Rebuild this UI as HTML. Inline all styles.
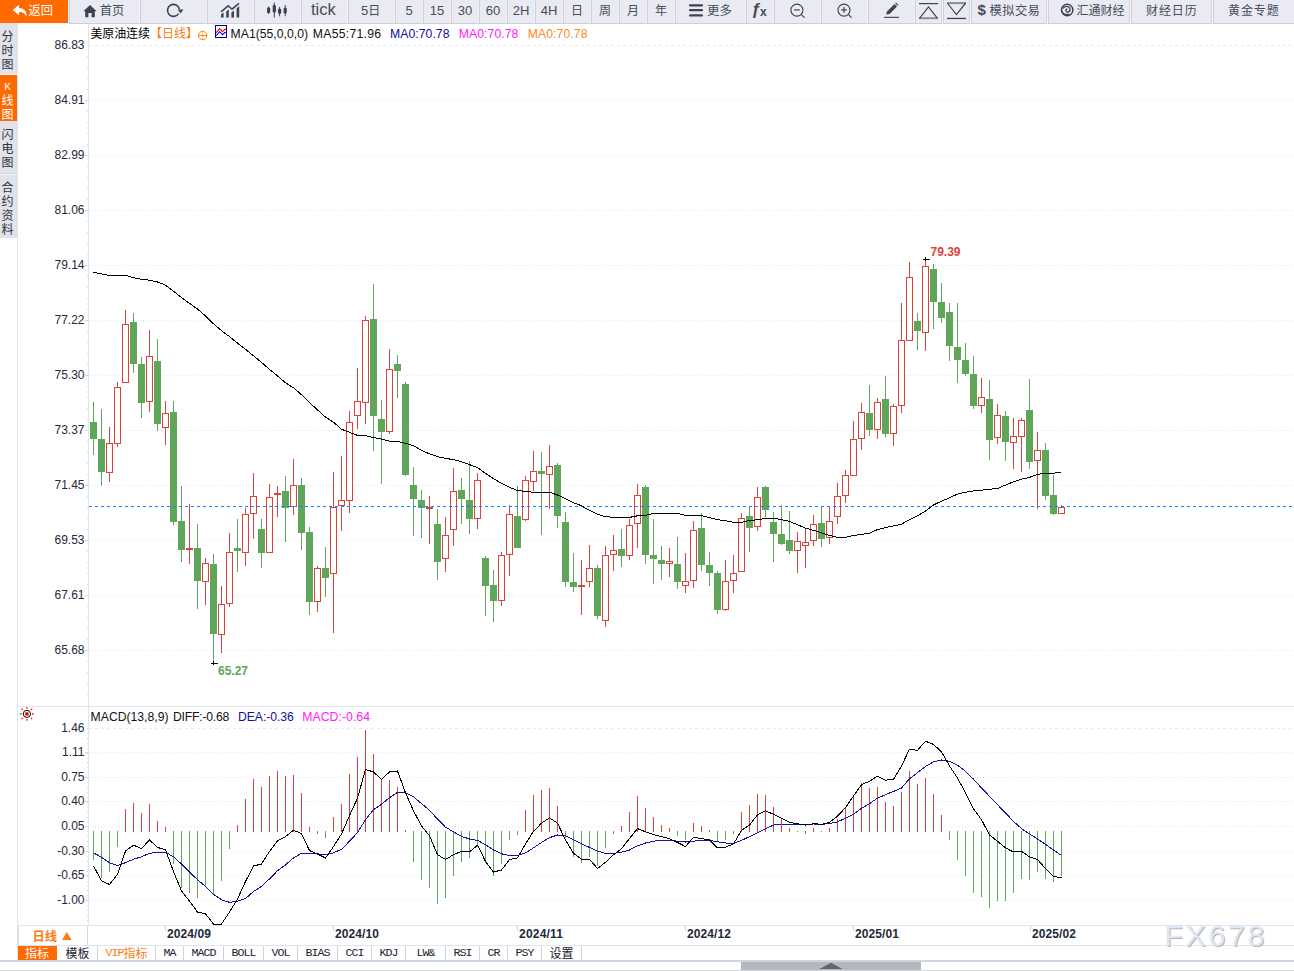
<!DOCTYPE html>
<html lang="zh-CN"><head><meta charset="utf-8"><title>美原油连续 日线</title>
<style>
html,body{margin:0;padding:0;background:#fff;}
body{width:1294px;height:971px;position:relative;overflow:hidden;font-family:"Liberation Sans","Noto Sans CJK SC",sans-serif;font-size:12px;color:#222;}
#tb{position:absolute;left:0;top:0;width:1294px;height:24px;background:#f3f4f9;}
.b{position:absolute;top:0;height:24px;box-sizing:border-box;background:#e9eaf2;border-left:1px solid #cfd0da;border-right:1px solid #f1f2f7;border-bottom:1px solid #cdd0d9;}
.b.d{border-right:1px solid #d3d4de;}
.b svg{position:absolute;}
.b.o{background:#ff6a00;border-left:1px solid #ff6a00;border-bottom:none;height:23px;}
.num{font-size:14px;}
#side{position:absolute;left:0;top:23px;width:18px;height:215px;background:#e1e2ea;}
.sv{position:absolute;left:-1.5px;width:18px;text-align:center;font-size:12px;line-height:14px;color:#2d3644;font-family:"Liberation Sans","Noto Sans CJK SC",sans-serif;}
.sv.o{background:#ff6a00;color:#fff;left:0;width:17px;padding-right:2px;box-sizing:border-box;}
svg text{font-family:"Liberation Sans","Noto Sans CJK SC",sans-serif;}
#chart{position:absolute;left:0;top:0;}
.t{position:absolute;white-space:nowrap;}
.tab{position:absolute;top:946px;height:14px;box-sizing:border-box;border-right:1px solid #ccd3dd;text-align:center;color:#1c2230;white-space:nowrap;background:#fff;overflow:visible;}
.ti{position:absolute;left:0;right:0;top:-0.5px;font-size:12px;line-height:16px;text-align:center;}
.mo{font-family:"Liberation Mono",monospace;font-size:11.6px;letter-spacing:-0.96px;position:relative;top:-1.3px;}
</style></head><body>
<svg id="chart" width="1294" height="971" viewBox="0 0 1294 971" shape-rendering="crispEdges">
<g stroke="#dfe5ec" stroke-width="1" fill="none">
<line x1="17.5" y1="238" x2="17.5" y2="962"/>
<line x1="88.5" y1="24" x2="88.5" y2="925"/>
<line x1="18" y1="706.5" x2="1294" y2="706.5"/>
<line x1="18" y1="925.5" x2="1294" y2="925.5"/>
<line x1="18" y1="945.5" x2="1294" y2="945.5"/>
</g>
<line x1="89" y1="45.5" x2="1294" y2="45.5" stroke="#e2ebf1" stroke-width="1" stroke-dasharray="3 3"/>
<line x1="89" y1="728.5" x2="1294" y2="728.5" stroke="#e2ebf1" stroke-width="1" stroke-dasharray="3 3"/>
<g stroke="#e5e8ed" stroke-width="1" stroke-dasharray="1 2" fill="none">
<line x1="89" y1="100.5" x2="1294" y2="100.5"/>
<line x1="89" y1="155.5" x2="1294" y2="155.5"/>
<line x1="89" y1="210.5" x2="1294" y2="210.5"/>
<line x1="89" y1="265.5" x2="1294" y2="265.5"/>
<line x1="89" y1="320.5" x2="1294" y2="320.5"/>
<line x1="89" y1="375.5" x2="1294" y2="375.5"/>
<line x1="89" y1="430.5" x2="1294" y2="430.5"/>
<line x1="89" y1="485.5" x2="1294" y2="485.5"/>
<line x1="89" y1="540.5" x2="1294" y2="540.5"/>
<line x1="89" y1="595.5" x2="1294" y2="595.5"/>
<line x1="89" y1="650.5" x2="1294" y2="650.5"/>
<line x1="89" y1="752.5" x2="1294" y2="752.5"/>
<line x1="89" y1="777.5" x2="1294" y2="777.5"/>
<line x1="89" y1="801.5" x2="1294" y2="801.5"/>
<line x1="89" y1="826.5" x2="1294" y2="826.5"/>
<line x1="89" y1="851.5" x2="1294" y2="851.5"/>
<line x1="89" y1="875.5" x2="1294" y2="875.5"/>
<line x1="89" y1="900.5" x2="1294" y2="900.5"/>
</g>
<g stroke="#cfd8e3" stroke-width="1" fill="none">
<line x1="87" y1="56.5" x2="88" y2="56.5"/>
<line x1="87" y1="67.5" x2="88" y2="67.5"/>
<line x1="87" y1="78.5" x2="88" y2="78.5"/>
<line x1="87" y1="89.5" x2="88" y2="89.5"/>
<line x1="85" y1="100.5" x2="88" y2="100.5"/>
<line x1="87" y1="111.5" x2="88" y2="111.5"/>
<line x1="87" y1="122.5" x2="88" y2="122.5"/>
<line x1="87" y1="133.5" x2="88" y2="133.5"/>
<line x1="87" y1="144.5" x2="88" y2="144.5"/>
<line x1="85" y1="155.5" x2="88" y2="155.5"/>
<line x1="87" y1="166.5" x2="88" y2="166.5"/>
<line x1="87" y1="177.5" x2="88" y2="177.5"/>
<line x1="87" y1="188.5" x2="88" y2="188.5"/>
<line x1="87" y1="199.5" x2="88" y2="199.5"/>
<line x1="85" y1="210.5" x2="88" y2="210.5"/>
<line x1="87" y1="221.5" x2="88" y2="221.5"/>
<line x1="87" y1="232.5" x2="88" y2="232.5"/>
<line x1="87" y1="243.5" x2="88" y2="243.5"/>
<line x1="87" y1="254.5" x2="88" y2="254.5"/>
<line x1="85" y1="265.5" x2="88" y2="265.5"/>
<line x1="87" y1="276.5" x2="88" y2="276.5"/>
<line x1="87" y1="287.5" x2="88" y2="287.5"/>
<line x1="87" y1="298.5" x2="88" y2="298.5"/>
<line x1="87" y1="309.5" x2="88" y2="309.5"/>
<line x1="85" y1="320.5" x2="88" y2="320.5"/>
<line x1="87" y1="331.5" x2="88" y2="331.5"/>
<line x1="87" y1="342.5" x2="88" y2="342.5"/>
<line x1="87" y1="353.5" x2="88" y2="353.5"/>
<line x1="87" y1="364.5" x2="88" y2="364.5"/>
<line x1="85" y1="375.5" x2="88" y2="375.5"/>
<line x1="87" y1="386.5" x2="88" y2="386.5"/>
<line x1="87" y1="397.5" x2="88" y2="397.5"/>
<line x1="87" y1="408.5" x2="88" y2="408.5"/>
<line x1="87" y1="419.5" x2="88" y2="419.5"/>
<line x1="85" y1="430.5" x2="88" y2="430.5"/>
<line x1="87" y1="441.5" x2="88" y2="441.5"/>
<line x1="87" y1="452.5" x2="88" y2="452.5"/>
<line x1="87" y1="463.5" x2="88" y2="463.5"/>
<line x1="87" y1="474.5" x2="88" y2="474.5"/>
<line x1="85" y1="485.5" x2="88" y2="485.5"/>
<line x1="87" y1="496.5" x2="88" y2="496.5"/>
<line x1="87" y1="507.5" x2="88" y2="507.5"/>
<line x1="87" y1="518.5" x2="88" y2="518.5"/>
<line x1="87" y1="529.5" x2="88" y2="529.5"/>
<line x1="85" y1="540.5" x2="88" y2="540.5"/>
<line x1="87" y1="551.5" x2="88" y2="551.5"/>
<line x1="87" y1="562.5" x2="88" y2="562.5"/>
<line x1="87" y1="573.5" x2="88" y2="573.5"/>
<line x1="87" y1="584.5" x2="88" y2="584.5"/>
<line x1="85" y1="595.5" x2="88" y2="595.5"/>
<line x1="87" y1="606.5" x2="88" y2="606.5"/>
<line x1="87" y1="617.5" x2="88" y2="617.5"/>
<line x1="87" y1="628.5" x2="88" y2="628.5"/>
<line x1="87" y1="639.5" x2="88" y2="639.5"/>
<line x1="85" y1="650.5" x2="88" y2="650.5"/>
<line x1="87" y1="661.5" x2="88" y2="661.5"/>
<line x1="87" y1="672.5" x2="88" y2="672.5"/>
<line x1="87" y1="683.5" x2="88" y2="683.5"/>
<line x1="87" y1="694.5" x2="88" y2="694.5"/>
<line x1="85" y1="752.5" x2="88" y2="752.5"/>
<line x1="85" y1="777.5" x2="88" y2="777.5"/>
<line x1="85" y1="801.5" x2="88" y2="801.5"/>
<line x1="85" y1="826.5" x2="88" y2="826.5"/>
<line x1="85" y1="851.5" x2="88" y2="851.5"/>
<line x1="85" y1="875.5" x2="88" y2="875.5"/>
<line x1="85" y1="900.5" x2="88" y2="900.5"/>
<line x1="87" y1="728.5" x2="88" y2="728.5"/>
<line x1="87" y1="733.5" x2="88" y2="733.5"/>
<line x1="87" y1="738.5" x2="88" y2="738.5"/>
<line x1="87" y1="743.5" x2="88" y2="743.5"/>
<line x1="87" y1="748.5" x2="88" y2="748.5"/>
<line x1="87" y1="753.5" x2="88" y2="753.5"/>
<line x1="87" y1="758.5" x2="88" y2="758.5"/>
<line x1="87" y1="762.5" x2="88" y2="762.5"/>
<line x1="87" y1="767.5" x2="88" y2="767.5"/>
<line x1="87" y1="772.5" x2="88" y2="772.5"/>
<line x1="87" y1="777.5" x2="88" y2="777.5"/>
<line x1="87" y1="782.5" x2="88" y2="782.5"/>
<line x1="87" y1="787.5" x2="88" y2="787.5"/>
<line x1="87" y1="792.5" x2="88" y2="792.5"/>
<line x1="87" y1="797.5" x2="88" y2="797.5"/>
<line x1="87" y1="802.5" x2="88" y2="802.5"/>
<line x1="87" y1="807.5" x2="88" y2="807.5"/>
<line x1="87" y1="812.5" x2="88" y2="812.5"/>
<line x1="87" y1="817.5" x2="88" y2="817.5"/>
<line x1="87" y1="821.5" x2="88" y2="821.5"/>
<line x1="87" y1="826.5" x2="88" y2="826.5"/>
<line x1="87" y1="831.5" x2="88" y2="831.5"/>
<line x1="87" y1="836.5" x2="88" y2="836.5"/>
<line x1="87" y1="841.5" x2="88" y2="841.5"/>
<line x1="87" y1="846.5" x2="88" y2="846.5"/>
<line x1="87" y1="851.5" x2="88" y2="851.5"/>
<line x1="87" y1="856.5" x2="88" y2="856.5"/>
<line x1="87" y1="861.5" x2="88" y2="861.5"/>
<line x1="87" y1="866.5" x2="88" y2="866.5"/>
<line x1="87" y1="871.5" x2="88" y2="871.5"/>
<line x1="87" y1="876.5" x2="88" y2="876.5"/>
<line x1="87" y1="881.5" x2="88" y2="881.5"/>
<line x1="87" y1="885.5" x2="88" y2="885.5"/>
<line x1="87" y1="890.5" x2="88" y2="890.5"/>
<line x1="87" y1="895.5" x2="88" y2="895.5"/>
<line x1="87" y1="900.5" x2="88" y2="900.5"/>
<line x1="87" y1="905.5" x2="88" y2="905.5"/>
<line x1="87" y1="910.5" x2="88" y2="910.5"/>
<line x1="87" y1="915.5" x2="88" y2="915.5"/>
<line x1="87" y1="920.5" x2="88" y2="920.5"/>
</g>
<g>
<rect x="93" y="402" width="1" height="53" fill="#5fa55a"/>
<rect x="90" y="422" width="7" height="17" fill="#5fa55a"/>
<rect x="101" y="409" width="1" height="77" fill="#5fa55a"/>
<rect x="98" y="439" width="7" height="33" fill="#5fa55a"/>
<rect x="109" y="427" width="1" height="16" fill="#d8433c"/>
<rect x="109" y="473" width="1" height="9" fill="#d8433c"/>
<rect x="106.5" y="443.5" width="6" height="29" fill="#fff" stroke="#d8433c" stroke-width="1"/>
<rect x="117" y="382" width="1" height="5" fill="#d8433c"/>
<rect x="117" y="444" width="1" height="3" fill="#d8433c"/>
<rect x="114.5" y="387.5" width="6" height="56" fill="#fff" stroke="#d8433c" stroke-width="1"/>
<rect x="125" y="310" width="1" height="14" fill="#d8433c"/>
<rect x="122.5" y="324.5" width="6" height="58" fill="#fff" stroke="#d8433c" stroke-width="1"/>
<rect x="133" y="313" width="1" height="60" fill="#5fa55a"/>
<rect x="130" y="322" width="7" height="42" fill="#5fa55a"/>
<rect x="141" y="357" width="1" height="61" fill="#5fa55a"/>
<rect x="138" y="364" width="7" height="39" fill="#5fa55a"/>
<rect x="149" y="330" width="1" height="26" fill="#d8433c"/>
<rect x="149" y="402" width="1" height="10" fill="#d8433c"/>
<rect x="146.5" y="356.5" width="6" height="45" fill="#fff" stroke="#d8433c" stroke-width="1"/>
<rect x="157" y="339" width="1" height="92" fill="#5fa55a"/>
<rect x="154" y="361" width="7" height="63" fill="#5fa55a"/>
<rect x="165" y="401" width="1" height="12" fill="#d8433c"/>
<rect x="165" y="428" width="1" height="17" fill="#d8433c"/>
<rect x="162.5" y="413.5" width="6" height="14" fill="#fff" stroke="#d8433c" stroke-width="1"/>
<rect x="173" y="401" width="1" height="124" fill="#5fa55a"/>
<rect x="170" y="412" width="7" height="110" fill="#5fa55a"/>
<rect x="181" y="486" width="1" height="76" fill="#5fa55a"/>
<rect x="178" y="521" width="7" height="29" fill="#5fa55a"/>
<rect x="189" y="504" width="1" height="44" fill="#d8433c"/>
<rect x="189" y="550" width="1" height="14" fill="#d8433c"/>
<rect x="186" y="548" width="7" height="2" fill="#d8433c"/>
<rect x="197" y="524" width="1" height="85" fill="#5fa55a"/>
<rect x="194" y="548" width="7" height="33" fill="#5fa55a"/>
<rect x="205" y="558" width="1" height="5" fill="#d8433c"/>
<rect x="205" y="582" width="1" height="23" fill="#d8433c"/>
<rect x="202.5" y="563.5" width="6" height="18" fill="#fff" stroke="#d8433c" stroke-width="1"/>
<rect x="213" y="554" width="1" height="107" fill="#5fa55a"/>
<rect x="210" y="564" width="7" height="70" fill="#5fa55a"/>
<rect x="221" y="586" width="1" height="18" fill="#d8433c"/>
<rect x="221" y="635" width="1" height="18" fill="#d8433c"/>
<rect x="218.5" y="604.5" width="6" height="30" fill="#fff" stroke="#d8433c" stroke-width="1"/>
<rect x="229" y="533" width="1" height="19" fill="#d8433c"/>
<rect x="229" y="604" width="1" height="3" fill="#d8433c"/>
<rect x="226.5" y="552.5" width="6" height="51" fill="#fff" stroke="#d8433c" stroke-width="1"/>
<rect x="237" y="519" width="1" height="53" fill="#5fa55a"/>
<rect x="234" y="548" width="7" height="3" fill="#5fa55a"/>
<rect x="245" y="508" width="1" height="6" fill="#d8433c"/>
<rect x="245" y="553" width="1" height="13" fill="#d8433c"/>
<rect x="242.5" y="514.5" width="6" height="38" fill="#fff" stroke="#d8433c" stroke-width="1"/>
<rect x="253" y="473" width="1" height="23" fill="#d8433c"/>
<rect x="253" y="514" width="1" height="25" fill="#d8433c"/>
<rect x="250.5" y="496.5" width="6" height="17" fill="#fff" stroke="#d8433c" stroke-width="1"/>
<rect x="261" y="519" width="1" height="49" fill="#5fa55a"/>
<rect x="258" y="529" width="7" height="24" fill="#5fa55a"/>
<rect x="269" y="484" width="1" height="13" fill="#d8433c"/>
<rect x="266.5" y="497.5" width="6" height="55" fill="#fff" stroke="#d8433c" stroke-width="1"/>
<rect x="277" y="486" width="1" height="7" fill="#d8433c"/>
<rect x="277" y="495" width="1" height="22" fill="#d8433c"/>
<rect x="274" y="493" width="7" height="2" fill="#d8433c"/>
<rect x="285" y="476" width="1" height="66" fill="#5fa55a"/>
<rect x="282" y="491" width="7" height="17" fill="#5fa55a"/>
<rect x="293" y="459" width="1" height="26" fill="#d8433c"/>
<rect x="293" y="507" width="1" height="8" fill="#d8433c"/>
<rect x="290.5" y="485.5" width="6" height="21" fill="#fff" stroke="#d8433c" stroke-width="1"/>
<rect x="301" y="478" width="1" height="72" fill="#5fa55a"/>
<rect x="298" y="485" width="7" height="48" fill="#5fa55a"/>
<rect x="309" y="527" width="1" height="88" fill="#5fa55a"/>
<rect x="306" y="532" width="7" height="70" fill="#5fa55a"/>
<rect x="317" y="566" width="1" height="2" fill="#d8433c"/>
<rect x="317" y="602" width="1" height="10" fill="#d8433c"/>
<rect x="314.5" y="568.5" width="6" height="33" fill="#fff" stroke="#d8433c" stroke-width="1"/>
<rect x="325" y="547" width="1" height="50" fill="#5fa55a"/>
<rect x="322" y="568" width="7" height="10" fill="#5fa55a"/>
<rect x="333" y="472" width="1" height="35" fill="#d8433c"/>
<rect x="333" y="574" width="1" height="59" fill="#d8433c"/>
<rect x="330.5" y="507.5" width="6" height="66" fill="#fff" stroke="#d8433c" stroke-width="1"/>
<rect x="341" y="456" width="1" height="44" fill="#d8433c"/>
<rect x="341" y="506" width="1" height="25" fill="#d8433c"/>
<rect x="338.5" y="500.5" width="6" height="5" fill="#fff" stroke="#d8433c" stroke-width="1"/>
<rect x="349" y="411" width="1" height="11" fill="#d8433c"/>
<rect x="349" y="501" width="1" height="12" fill="#d8433c"/>
<rect x="346.5" y="422.5" width="6" height="78" fill="#fff" stroke="#d8433c" stroke-width="1"/>
<rect x="357" y="368" width="1" height="33" fill="#d8433c"/>
<rect x="357" y="416" width="1" height="13" fill="#d8433c"/>
<rect x="354.5" y="401.5" width="6" height="14" fill="#fff" stroke="#d8433c" stroke-width="1"/>
<rect x="365" y="316" width="1" height="4" fill="#d8433c"/>
<rect x="365" y="403" width="1" height="21" fill="#d8433c"/>
<rect x="362.5" y="320.5" width="6" height="82" fill="#fff" stroke="#d8433c" stroke-width="1"/>
<rect x="373" y="284" width="1" height="167" fill="#5fa55a"/>
<rect x="370" y="319" width="7" height="97" fill="#5fa55a"/>
<rect x="381" y="400" width="1" height="84" fill="#5fa55a"/>
<rect x="378" y="419" width="7" height="13" fill="#5fa55a"/>
<rect x="389" y="349" width="1" height="20" fill="#d8433c"/>
<rect x="389" y="432" width="1" height="2" fill="#d8433c"/>
<rect x="386.5" y="369.5" width="6" height="62" fill="#fff" stroke="#d8433c" stroke-width="1"/>
<rect x="397" y="355" width="1" height="43" fill="#5fa55a"/>
<rect x="394" y="364" width="7" height="7" fill="#5fa55a"/>
<rect x="405" y="382" width="1" height="94" fill="#5fa55a"/>
<rect x="402" y="384" width="7" height="91" fill="#5fa55a"/>
<rect x="413" y="467" width="1" height="69" fill="#5fa55a"/>
<rect x="410" y="485" width="7" height="14" fill="#5fa55a"/>
<rect x="421" y="490" width="1" height="48" fill="#5fa55a"/>
<rect x="418" y="500" width="7" height="8" fill="#5fa55a"/>
<rect x="429" y="496" width="1" height="11" fill="#d8433c"/>
<rect x="429" y="509" width="1" height="35" fill="#d8433c"/>
<rect x="426" y="507" width="7" height="2" fill="#d8433c"/>
<rect x="437" y="509" width="1" height="71" fill="#5fa55a"/>
<rect x="434" y="524" width="7" height="38" fill="#5fa55a"/>
<rect x="445" y="517" width="1" height="18" fill="#d8433c"/>
<rect x="445" y="559" width="1" height="13" fill="#d8433c"/>
<rect x="442.5" y="535.5" width="6" height="23" fill="#fff" stroke="#d8433c" stroke-width="1"/>
<rect x="453" y="468" width="1" height="23" fill="#d8433c"/>
<rect x="453" y="530" width="1" height="16" fill="#d8433c"/>
<rect x="450.5" y="491.5" width="6" height="38" fill="#fff" stroke="#d8433c" stroke-width="1"/>
<rect x="461" y="478" width="1" height="46" fill="#5fa55a"/>
<rect x="458" y="490" width="7" height="9" fill="#5fa55a"/>
<rect x="469" y="461" width="1" height="73" fill="#5fa55a"/>
<rect x="466" y="500" width="7" height="19" fill="#5fa55a"/>
<rect x="477" y="473" width="1" height="7" fill="#d8433c"/>
<rect x="477" y="519" width="1" height="10" fill="#d8433c"/>
<rect x="474.5" y="480.5" width="6" height="38" fill="#fff" stroke="#d8433c" stroke-width="1"/>
<rect x="485" y="556" width="1" height="60" fill="#5fa55a"/>
<rect x="482" y="558" width="7" height="28" fill="#5fa55a"/>
<rect x="493" y="570" width="1" height="52" fill="#5fa55a"/>
<rect x="490" y="585" width="7" height="16" fill="#5fa55a"/>
<rect x="501" y="552" width="1" height="3" fill="#d8433c"/>
<rect x="501" y="601" width="1" height="5" fill="#d8433c"/>
<rect x="498.5" y="555.5" width="6" height="45" fill="#fff" stroke="#d8433c" stroke-width="1"/>
<rect x="509" y="505" width="1" height="9" fill="#d8433c"/>
<rect x="509" y="555" width="1" height="21" fill="#d8433c"/>
<rect x="506.5" y="514.5" width="6" height="40" fill="#fff" stroke="#d8433c" stroke-width="1"/>
<rect x="517" y="486" width="1" height="62" fill="#5fa55a"/>
<rect x="514" y="516" width="7" height="32" fill="#5fa55a"/>
<rect x="525" y="476" width="1" height="4" fill="#d8433c"/>
<rect x="525" y="520" width="1" height="1" fill="#d8433c"/>
<rect x="522.5" y="480.5" width="6" height="39" fill="#fff" stroke="#d8433c" stroke-width="1"/>
<rect x="533" y="451" width="1" height="20" fill="#d8433c"/>
<rect x="533" y="482" width="1" height="9" fill="#d8433c"/>
<rect x="530.5" y="471.5" width="6" height="10" fill="#fff" stroke="#d8433c" stroke-width="1"/>
<rect x="541" y="452" width="1" height="83" fill="#5fa55a"/>
<rect x="538" y="471" width="7" height="3" fill="#5fa55a"/>
<rect x="549" y="445" width="1" height="21" fill="#d8433c"/>
<rect x="549" y="475" width="1" height="34" fill="#d8433c"/>
<rect x="546.5" y="466.5" width="6" height="8" fill="#fff" stroke="#d8433c" stroke-width="1"/>
<rect x="557" y="463" width="1" height="65" fill="#5fa55a"/>
<rect x="554" y="465" width="7" height="51" fill="#5fa55a"/>
<rect x="565" y="512" width="1" height="75" fill="#5fa55a"/>
<rect x="562" y="522" width="7" height="60" fill="#5fa55a"/>
<rect x="573" y="553" width="1" height="39" fill="#5fa55a"/>
<rect x="570" y="582" width="7" height="5" fill="#5fa55a"/>
<rect x="581" y="560" width="1" height="25" fill="#d8433c"/>
<rect x="581" y="587" width="1" height="28" fill="#d8433c"/>
<rect x="578" y="585" width="7" height="2" fill="#d8433c"/>
<rect x="589" y="545" width="1" height="23" fill="#d8433c"/>
<rect x="589" y="582" width="1" height="5" fill="#d8433c"/>
<rect x="586.5" y="568.5" width="6" height="13" fill="#fff" stroke="#d8433c" stroke-width="1"/>
<rect x="597" y="565" width="1" height="54" fill="#5fa55a"/>
<rect x="594" y="568" width="7" height="48" fill="#5fa55a"/>
<rect x="605" y="546" width="1" height="9" fill="#d8433c"/>
<rect x="605" y="621" width="1" height="6" fill="#d8433c"/>
<rect x="602.5" y="555.5" width="6" height="65" fill="#fff" stroke="#d8433c" stroke-width="1"/>
<rect x="613" y="535" width="1" height="15" fill="#d8433c"/>
<rect x="613" y="555" width="1" height="16" fill="#d8433c"/>
<rect x="610.5" y="550.5" width="6" height="4" fill="#fff" stroke="#d8433c" stroke-width="1"/>
<rect x="621" y="529" width="1" height="38" fill="#5fa55a"/>
<rect x="618" y="549" width="7" height="7" fill="#5fa55a"/>
<rect x="629" y="519" width="1" height="6" fill="#d8433c"/>
<rect x="629" y="556" width="1" height="4" fill="#d8433c"/>
<rect x="626.5" y="525.5" width="6" height="30" fill="#fff" stroke="#d8433c" stroke-width="1"/>
<rect x="637" y="484" width="1" height="11" fill="#d8433c"/>
<rect x="637" y="524" width="1" height="24" fill="#d8433c"/>
<rect x="634.5" y="495.5" width="6" height="28" fill="#fff" stroke="#d8433c" stroke-width="1"/>
<rect x="645" y="485" width="1" height="79" fill="#5fa55a"/>
<rect x="642" y="487" width="7" height="68" fill="#5fa55a"/>
<rect x="653" y="519" width="1" height="65" fill="#5fa55a"/>
<rect x="650" y="555" width="7" height="4" fill="#5fa55a"/>
<rect x="661" y="546" width="1" height="34" fill="#5fa55a"/>
<rect x="658" y="560" width="7" height="4" fill="#5fa55a"/>
<rect x="669" y="548" width="1" height="13" fill="#d8433c"/>
<rect x="669" y="564" width="1" height="13" fill="#d8433c"/>
<rect x="666.5" y="561.5" width="6" height="2" fill="#fff" stroke="#d8433c" stroke-width="1"/>
<rect x="677" y="537" width="1" height="52" fill="#5fa55a"/>
<rect x="674" y="564" width="7" height="18" fill="#5fa55a"/>
<rect x="685" y="553" width="1" height="28" fill="#d8433c"/>
<rect x="685" y="586" width="1" height="7" fill="#d8433c"/>
<rect x="682.5" y="581.5" width="6" height="4" fill="#fff" stroke="#d8433c" stroke-width="1"/>
<rect x="693" y="521" width="1" height="9" fill="#d8433c"/>
<rect x="693" y="581" width="1" height="7" fill="#d8433c"/>
<rect x="690.5" y="530.5" width="6" height="50" fill="#fff" stroke="#d8433c" stroke-width="1"/>
<rect x="701" y="513" width="1" height="58" fill="#5fa55a"/>
<rect x="698" y="528" width="7" height="37" fill="#5fa55a"/>
<rect x="709" y="552" width="1" height="34" fill="#5fa55a"/>
<rect x="706" y="565" width="7" height="8" fill="#5fa55a"/>
<rect x="717" y="571" width="1" height="43" fill="#5fa55a"/>
<rect x="714" y="573" width="7" height="37" fill="#5fa55a"/>
<rect x="725" y="560" width="1" height="21" fill="#d8433c"/>
<rect x="725" y="610" width="1" height="1" fill="#d8433c"/>
<rect x="722.5" y="581.5" width="6" height="28" fill="#fff" stroke="#d8433c" stroke-width="1"/>
<rect x="733" y="555" width="1" height="18" fill="#d8433c"/>
<rect x="733" y="581" width="1" height="12" fill="#d8433c"/>
<rect x="730.5" y="573.5" width="6" height="7" fill="#fff" stroke="#d8433c" stroke-width="1"/>
<rect x="741" y="513" width="1" height="5" fill="#d8433c"/>
<rect x="738.5" y="518.5" width="6" height="53" fill="#fff" stroke="#d8433c" stroke-width="1"/>
<rect x="749" y="506" width="1" height="46" fill="#5fa55a"/>
<rect x="746" y="516" width="7" height="12" fill="#5fa55a"/>
<rect x="757" y="487" width="1" height="10" fill="#d8433c"/>
<rect x="757" y="527" width="1" height="4" fill="#d8433c"/>
<rect x="754.5" y="497.5" width="6" height="29" fill="#fff" stroke="#d8433c" stroke-width="1"/>
<rect x="765" y="486" width="1" height="31" fill="#5fa55a"/>
<rect x="762" y="487" width="7" height="23" fill="#5fa55a"/>
<rect x="773" y="512" width="1" height="50" fill="#5fa55a"/>
<rect x="770" y="522" width="7" height="12" fill="#5fa55a"/>
<rect x="781" y="505" width="1" height="40" fill="#5fa55a"/>
<rect x="778" y="534" width="7" height="10" fill="#5fa55a"/>
<rect x="789" y="511" width="1" height="43" fill="#5fa55a"/>
<rect x="786" y="540" width="7" height="11" fill="#5fa55a"/>
<rect x="797" y="532" width="1" height="9" fill="#d8433c"/>
<rect x="797" y="551" width="1" height="22" fill="#d8433c"/>
<rect x="794.5" y="541.5" width="6" height="9" fill="#fff" stroke="#d8433c" stroke-width="1"/>
<rect x="805" y="529" width="1" height="13" fill="#d8433c"/>
<rect x="805" y="546" width="1" height="22" fill="#d8433c"/>
<rect x="802.5" y="542.5" width="6" height="3" fill="#fff" stroke="#d8433c" stroke-width="1"/>
<rect x="813" y="515" width="1" height="9" fill="#d8433c"/>
<rect x="813" y="541" width="1" height="5" fill="#d8433c"/>
<rect x="810.5" y="524.5" width="6" height="16" fill="#fff" stroke="#d8433c" stroke-width="1"/>
<rect x="821" y="506" width="1" height="41" fill="#5fa55a"/>
<rect x="818" y="523" width="7" height="16" fill="#5fa55a"/>
<rect x="829" y="506" width="1" height="15" fill="#d8433c"/>
<rect x="829" y="538" width="1" height="6" fill="#d8433c"/>
<rect x="826.5" y="521.5" width="6" height="16" fill="#fff" stroke="#d8433c" stroke-width="1"/>
<rect x="837" y="483" width="1" height="13" fill="#d8433c"/>
<rect x="837" y="517" width="1" height="7" fill="#d8433c"/>
<rect x="834.5" y="496.5" width="6" height="20" fill="#fff" stroke="#d8433c" stroke-width="1"/>
<rect x="845" y="470" width="1" height="5" fill="#d8433c"/>
<rect x="845" y="496" width="1" height="7" fill="#d8433c"/>
<rect x="842.5" y="475.5" width="6" height="20" fill="#fff" stroke="#d8433c" stroke-width="1"/>
<rect x="853" y="421" width="1" height="18" fill="#d8433c"/>
<rect x="850.5" y="439.5" width="6" height="36" fill="#fff" stroke="#d8433c" stroke-width="1"/>
<rect x="861" y="403" width="1" height="9" fill="#d8433c"/>
<rect x="861" y="439" width="1" height="11" fill="#d8433c"/>
<rect x="858.5" y="412.5" width="6" height="26" fill="#fff" stroke="#d8433c" stroke-width="1"/>
<rect x="869" y="385" width="1" height="51" fill="#5fa55a"/>
<rect x="866" y="413" width="7" height="17" fill="#5fa55a"/>
<rect x="877" y="398" width="1" height="4" fill="#d8433c"/>
<rect x="877" y="430" width="1" height="9" fill="#d8433c"/>
<rect x="874.5" y="402.5" width="6" height="27" fill="#fff" stroke="#d8433c" stroke-width="1"/>
<rect x="885" y="376" width="1" height="61" fill="#5fa55a"/>
<rect x="882" y="399" width="7" height="35" fill="#5fa55a"/>
<rect x="893" y="404" width="1" height="2" fill="#d8433c"/>
<rect x="893" y="434" width="1" height="12" fill="#d8433c"/>
<rect x="890.5" y="406.5" width="6" height="27" fill="#fff" stroke="#d8433c" stroke-width="1"/>
<rect x="901" y="303" width="1" height="37" fill="#d8433c"/>
<rect x="901" y="406" width="1" height="7" fill="#d8433c"/>
<rect x="898.5" y="340.5" width="6" height="65" fill="#fff" stroke="#d8433c" stroke-width="1"/>
<rect x="909" y="262" width="1" height="15" fill="#d8433c"/>
<rect x="906.5" y="277.5" width="6" height="63" fill="#fff" stroke="#d8433c" stroke-width="1"/>
<rect x="917" y="313" width="1" height="37" fill="#5fa55a"/>
<rect x="914" y="321" width="7" height="10" fill="#5fa55a"/>
<rect x="925" y="261" width="1" height="5" fill="#d8433c"/>
<rect x="925" y="333" width="1" height="18" fill="#d8433c"/>
<rect x="922.5" y="266.5" width="6" height="66" fill="#fff" stroke="#d8433c" stroke-width="1"/>
<rect x="933" y="264" width="1" height="65" fill="#5fa55a"/>
<rect x="930" y="269" width="7" height="33" fill="#5fa55a"/>
<rect x="941" y="283" width="1" height="40" fill="#5fa55a"/>
<rect x="938" y="302" width="7" height="16" fill="#5fa55a"/>
<rect x="949" y="303" width="1" height="58" fill="#5fa55a"/>
<rect x="946" y="312" width="7" height="34" fill="#5fa55a"/>
<rect x="957" y="303" width="1" height="80" fill="#5fa55a"/>
<rect x="954" y="347" width="7" height="13" fill="#5fa55a"/>
<rect x="965" y="343" width="1" height="33" fill="#5fa55a"/>
<rect x="962" y="360" width="7" height="14" fill="#5fa55a"/>
<rect x="973" y="356" width="1" height="53" fill="#5fa55a"/>
<rect x="970" y="374" width="7" height="32" fill="#5fa55a"/>
<rect x="981" y="378" width="1" height="19" fill="#d8433c"/>
<rect x="981" y="406" width="1" height="7" fill="#d8433c"/>
<rect x="978.5" y="397.5" width="6" height="8" fill="#fff" stroke="#d8433c" stroke-width="1"/>
<rect x="989" y="380" width="1" height="80" fill="#5fa55a"/>
<rect x="986" y="399" width="7" height="41" fill="#5fa55a"/>
<rect x="997" y="404" width="1" height="11" fill="#d8433c"/>
<rect x="997" y="438" width="1" height="6" fill="#d8433c"/>
<rect x="994.5" y="415.5" width="6" height="22" fill="#fff" stroke="#d8433c" stroke-width="1"/>
<rect x="1005" y="411" width="1" height="50" fill="#5fa55a"/>
<rect x="1002" y="416" width="7" height="26" fill="#5fa55a"/>
<rect x="1013" y="418" width="1" height="18" fill="#d8433c"/>
<rect x="1013" y="443" width="1" height="26" fill="#d8433c"/>
<rect x="1010.5" y="436.5" width="6" height="6" fill="#fff" stroke="#d8433c" stroke-width="1"/>
<rect x="1021" y="418" width="1" height="2" fill="#d8433c"/>
<rect x="1021" y="437" width="1" height="35" fill="#d8433c"/>
<rect x="1018.5" y="420.5" width="6" height="16" fill="#fff" stroke="#d8433c" stroke-width="1"/>
<rect x="1029" y="379" width="1" height="90" fill="#5fa55a"/>
<rect x="1026" y="410" width="7" height="52" fill="#5fa55a"/>
<rect x="1037" y="432" width="1" height="18" fill="#d8433c"/>
<rect x="1037" y="461" width="1" height="48" fill="#d8433c"/>
<rect x="1034.5" y="450.5" width="6" height="10" fill="#fff" stroke="#d8433c" stroke-width="1"/>
<rect x="1045" y="443" width="1" height="57" fill="#5fa55a"/>
<rect x="1042" y="450" width="7" height="46" fill="#5fa55a"/>
<rect x="1053" y="475" width="1" height="40" fill="#5fa55a"/>
<rect x="1050" y="495" width="7" height="19" fill="#5fa55a"/>
<rect x="1061" y="505" width="1" height="2" fill="#d8433c"/>
<rect x="1058.5" y="507.5" width="6" height="6" fill="#fff" stroke="#d8433c" stroke-width="1"/>
</g>
<line x1="89" y1="506.5" x2="1294" y2="506.5" stroke="#1484fa" stroke-width="1" stroke-dasharray="3 3"/>
<polyline shape-rendering="crispEdges" fill="none" stroke="#000" stroke-width="1" points="93.5,272.3 101.5,273.9 109.5,275.4 117.5,275.4 125.5,275.4 133.5,277.7 141.5,279.3 149.5,280.2 157.5,282 165.5,285.1 173.5,291.3 181.5,297.5 189.5,303.4 197.5,309.1 205.5,316 213.5,323.8 221.5,330.7 229.5,336.6 237.5,343.1 245.5,349.3 253.5,355.8 261.5,362.4 269.5,369.4 277.5,375.9 285.5,382.8 293.5,387.8 301.5,394.7 309.5,402.5 317.5,409.9 325.5,417.1 333.5,422.2 341.5,429.2 349.5,432.3 357.5,435.4 365.5,435.7 373.5,437.5 381.5,439.2 389.5,441.1 397.5,441.4 405.5,443.4 413.5,445.7 421.5,450.4 429.5,453.9 437.5,456.6 445.5,458.4 453.5,459.6 461.5,461.7 469.5,464.6 477.5,467.7 485.5,473.3 493.5,478.7 501.5,483.4 509.5,487.2 517.5,490.6 525.5,491.4 533.5,492.3 541.5,492.3 549.5,492.3 557.5,495 565.5,498.8 573.5,502.7 581.5,505.8 589.5,510.4 597.5,514.3 605.5,516.6 613.5,517.4 621.5,517.4 629.5,517.4 637.5,515.8 645.5,515.4 653.5,513.5 661.5,513.5 669.5,513.4 677.5,513.4 685.5,515.4 693.5,515.7 701.5,515.7 709.5,517.7 717.5,519.6 725.5,520.8 733.5,522.3 741.5,522.3 749.5,520.3 757.5,519.9 765.5,518.3 773.5,518.3 781.5,519.6 789.5,521.4 797.5,524.7 805.5,528.1 813.5,530.4 821.5,532.7 829.5,535.5 837.5,537.3 845.5,537.3 853.5,535.5 861.5,534.3 869.5,533.2 877.5,529.6 885.5,527.6 893.5,525.9 901.5,524.2 909.5,519.6 917.5,515.7 925.5,511.1 933.5,504.9 941.5,501.2 949.5,497.8 957.5,494.1 965.5,492.2 973.5,491 981.5,490.2 989.5,489.3 997.5,488.5 1005.5,485.1 1013.5,481.7 1021.5,479.1 1029.5,477.4 1037.5,474.3 1045.5,473.5 1053.5,473.2 1061.5,472"/>
<g fill="#000"><rect x="923" y="259" width="7" height="1"/><rect x="925" y="257" width="1" height="4"/>
<rect x="211" y="663" width="7" height="1"/><rect x="213" y="661" width="1" height="4"/></g>
<g>
<rect x="93" y="831" width="1" height="29" fill="#5fa55a"/>
<rect x="101" y="831" width="1" height="47" fill="#5fa55a"/>
<rect x="109" y="831" width="1" height="41" fill="#5fa55a"/>
<rect x="117" y="831" width="1" height="16" fill="#5fa55a"/>
<rect x="125" y="809" width="1" height="23" fill="#d8433c"/>
<rect x="133" y="803" width="1" height="29" fill="#d8433c"/>
<rect x="141" y="813" width="1" height="19" fill="#d8433c"/>
<rect x="149" y="804" width="1" height="28" fill="#d8433c"/>
<rect x="157" y="821" width="1" height="11" fill="#d8433c"/>
<rect x="165" y="827" width="1" height="5" fill="#d8433c"/>
<rect x="173" y="831" width="1" height="33" fill="#5fa55a"/>
<rect x="181" y="831" width="1" height="57" fill="#5fa55a"/>
<rect x="189" y="831" width="1" height="62" fill="#5fa55a"/>
<rect x="197" y="831" width="1" height="67" fill="#5fa55a"/>
<rect x="205" y="831" width="1" height="55" fill="#5fa55a"/>
<rect x="213" y="831" width="1" height="63" fill="#5fa55a"/>
<rect x="221" y="831" width="1" height="50" fill="#5fa55a"/>
<rect x="229" y="831" width="1" height="18" fill="#5fa55a"/>
<rect x="237" y="825" width="1" height="7" fill="#d8433c"/>
<rect x="245" y="799" width="1" height="33" fill="#d8433c"/>
<rect x="253" y="779" width="1" height="53" fill="#d8433c"/>
<rect x="261" y="787" width="1" height="45" fill="#d8433c"/>
<rect x="269" y="776" width="1" height="56" fill="#d8433c"/>
<rect x="277" y="771" width="1" height="61" fill="#d8433c"/>
<rect x="285" y="776" width="1" height="56" fill="#d8433c"/>
<rect x="293" y="775" width="1" height="57" fill="#d8433c"/>
<rect x="301" y="793" width="1" height="39" fill="#d8433c"/>
<rect x="309" y="827" width="1" height="5" fill="#d8433c"/>
<rect x="317" y="831" width="1" height="3" fill="#5fa55a"/>
<rect x="325" y="831" width="1" height="7" fill="#5fa55a"/>
<rect x="333" y="817" width="1" height="15" fill="#d8433c"/>
<rect x="341" y="804" width="1" height="28" fill="#d8433c"/>
<rect x="349" y="774" width="1" height="58" fill="#d8433c"/>
<rect x="357" y="757" width="1" height="75" fill="#d8433c"/>
<rect x="365" y="730" width="1" height="102" fill="#d8433c"/>
<rect x="373" y="754" width="1" height="78" fill="#d8433c"/>
<rect x="381" y="780" width="1" height="52" fill="#d8433c"/>
<rect x="389" y="780" width="1" height="52" fill="#d8433c"/>
<rect x="397" y="787" width="1" height="45" fill="#d8433c"/>
<rect x="405" y="830" width="1" height="2" fill="#d8433c"/>
<rect x="413" y="831" width="1" height="31" fill="#5fa55a"/>
<rect x="421" y="831" width="1" height="49" fill="#5fa55a"/>
<rect x="429" y="831" width="1" height="57" fill="#5fa55a"/>
<rect x="437" y="831" width="1" height="73" fill="#5fa55a"/>
<rect x="445" y="831" width="1" height="67" fill="#5fa55a"/>
<rect x="453" y="831" width="1" height="45" fill="#5fa55a"/>
<rect x="461" y="831" width="1" height="31" fill="#5fa55a"/>
<rect x="469" y="831" width="1" height="27" fill="#5fa55a"/>
<rect x="477" y="831" width="1" height="16" fill="#5fa55a"/>
<rect x="485" y="831" width="1" height="32" fill="#5fa55a"/>
<rect x="493" y="831" width="1" height="45" fill="#5fa55a"/>
<rect x="501" y="831" width="1" height="33" fill="#5fa55a"/>
<rect x="509" y="831" width="1" height="9" fill="#5fa55a"/>
<rect x="517" y="831" width="1" height="4" fill="#5fa55a"/>
<rect x="525" y="810" width="1" height="22" fill="#d8433c"/>
<rect x="533" y="795" width="1" height="37" fill="#d8433c"/>
<rect x="541" y="790" width="1" height="42" fill="#d8433c"/>
<rect x="549" y="788" width="1" height="44" fill="#d8433c"/>
<rect x="557" y="806" width="1" height="26" fill="#d8433c"/>
<rect x="565" y="831" width="1" height="7" fill="#5fa55a"/>
<rect x="573" y="831" width="1" height="26" fill="#5fa55a"/>
<rect x="581" y="831" width="1" height="32" fill="#5fa55a"/>
<rect x="589" y="831" width="1" height="26" fill="#5fa55a"/>
<rect x="597" y="831" width="1" height="35" fill="#5fa55a"/>
<rect x="605" y="831" width="1" height="17" fill="#5fa55a"/>
<rect x="613" y="831" width="1" height="3" fill="#5fa55a"/>
<rect x="621" y="826" width="1" height="6" fill="#d8433c"/>
<rect x="629" y="812" width="1" height="20" fill="#d8433c"/>
<rect x="637" y="796" width="1" height="36" fill="#d8433c"/>
<rect x="645" y="808" width="1" height="24" fill="#d8433c"/>
<rect x="653" y="817" width="1" height="15" fill="#d8433c"/>
<rect x="661" y="825" width="1" height="7" fill="#d8433c"/>
<rect x="669" y="828" width="1" height="4" fill="#d8433c"/>
<rect x="677" y="831" width="1" height="5" fill="#5fa55a"/>
<rect x="685" y="831" width="1" height="9" fill="#5fa55a"/>
<rect x="693" y="823" width="1" height="9" fill="#d8433c"/>
<rect x="701" y="826" width="1" height="6" fill="#d8433c"/>
<rect x="709" y="830" width="1" height="2" fill="#d8433c"/>
<rect x="717" y="831" width="1" height="11" fill="#5fa55a"/>
<rect x="725" y="831" width="1" height="9" fill="#5fa55a"/>
<rect x="733" y="831" width="1" height="3" fill="#5fa55a"/>
<rect x="741" y="812" width="1" height="20" fill="#d8433c"/>
<rect x="749" y="805" width="1" height="27" fill="#d8433c"/>
<rect x="757" y="794" width="1" height="38" fill="#d8433c"/>
<rect x="765" y="795" width="1" height="37" fill="#d8433c"/>
<rect x="773" y="807" width="1" height="25" fill="#d8433c"/>
<rect x="781" y="819" width="1" height="13" fill="#d8433c"/>
<rect x="789" y="828" width="1" height="4" fill="#d8433c"/>
<rect x="797" y="831" width="1" height="1" fill="#5fa55a"/>
<rect x="805" y="831" width="1" height="3" fill="#5fa55a"/>
<rect x="813" y="828" width="1" height="4" fill="#d8433c"/>
<rect x="821" y="831" width="1" height="1" fill="#5fa55a"/>
<rect x="829" y="828" width="1" height="4" fill="#d8433c"/>
<rect x="837" y="819" width="1" height="13" fill="#d8433c"/>
<rect x="845" y="808" width="1" height="24" fill="#d8433c"/>
<rect x="853" y="795" width="1" height="37" fill="#d8433c"/>
<rect x="861" y="783" width="1" height="49" fill="#d8433c"/>
<rect x="869" y="788" width="1" height="44" fill="#d8433c"/>
<rect x="877" y="787" width="1" height="45" fill="#d8433c"/>
<rect x="885" y="802" width="1" height="30" fill="#d8433c"/>
<rect x="893" y="806" width="1" height="26" fill="#d8433c"/>
<rect x="901" y="792" width="1" height="40" fill="#d8433c"/>
<rect x="909" y="771" width="1" height="61" fill="#d8433c"/>
<rect x="917" y="784" width="1" height="48" fill="#d8433c"/>
<rect x="925" y="778" width="1" height="54" fill="#d8433c"/>
<rect x="933" y="794" width="1" height="38" fill="#d8433c"/>
<rect x="941" y="815" width="1" height="17" fill="#d8433c"/>
<rect x="949" y="831" width="1" height="9" fill="#5fa55a"/>
<rect x="957" y="831" width="1" height="29" fill="#5fa55a"/>
<rect x="965" y="831" width="1" height="45" fill="#5fa55a"/>
<rect x="973" y="831" width="1" height="62" fill="#5fa55a"/>
<rect x="981" y="831" width="1" height="66" fill="#5fa55a"/>
<rect x="989" y="831" width="1" height="77" fill="#5fa55a"/>
<rect x="997" y="831" width="1" height="70" fill="#5fa55a"/>
<rect x="1005" y="831" width="1" height="70" fill="#5fa55a"/>
<rect x="1013" y="831" width="1" height="62" fill="#5fa55a"/>
<rect x="1021" y="831" width="1" height="48" fill="#5fa55a"/>
<rect x="1029" y="831" width="1" height="49" fill="#5fa55a"/>
<rect x="1037" y="831" width="1" height="41" fill="#5fa55a"/>
<rect x="1045" y="831" width="1" height="48" fill="#5fa55a"/>
<rect x="1053" y="831" width="1" height="51" fill="#5fa55a"/>
<rect x="1061" y="831" width="1" height="45" fill="#5fa55a"/>
</g>
<polyline shape-rendering="crispEdges" fill="none" stroke="#1414a0" stroke-width="1" points="93.5,852.8 101.5,857.3 109.5,862.7 117.5,865.4 125.5,862.7 133.5,859.2 141.5,856.8 149.5,853.3 157.5,852.2 165.5,852.2 173.5,856.8 181.5,864 189.5,872 197.5,879.7 205.5,886.4 213.5,894.2 221.5,899.8 229.5,902.3 237.5,901.2 245.5,898.5 253.5,891.5 261.5,886.4 269.5,878.9 277.5,870.8 285.5,864.9 293.5,858 301.5,853.3 309.5,853.3 317.5,853.8 325.5,854.7 333.5,852.8 341.5,849.3 349.5,841.2 357.5,832.6 365.5,819.7 373.5,809.7 381.5,804.4 389.5,797.6 397.5,792.3 405.5,792.8 413.5,796.8 421.5,803.6 429.5,810.3 437.5,819.1 445.5,827.2 453.5,831.8 461.5,836.4 469.5,839 477.5,840.4 485.5,844.7 493.5,850 501.5,853.8 509.5,855.5 517.5,855.5 525.5,852.8 533.5,847.9 541.5,842.5 549.5,837.7 557.5,835 565.5,835.8 573.5,839.9 581.5,843.9 589.5,847.4 597.5,851.2 605.5,853.3 613.5,853.3 621.5,852.2 629.5,850 637.5,845.8 645.5,843 653.5,841.2 661.5,840.1 669.5,840.1 677.5,841.2 685.5,842 693.5,841.2 701.5,840.4 709.5,840.4 717.5,841.7 725.5,843 733.5,843.4 741.5,840.4 749.5,836.6 757.5,832.6 765.5,828.6 773.5,825.1 781.5,824 789.5,824 797.5,824 805.5,824.3 813.5,824 821.5,824.3 829.5,823.7 837.5,821.8 845.5,818.3 853.5,814.3 861.5,808.4 869.5,803.6 877.5,798.2 885.5,794.7 893.5,791.4 901.5,788 909.5,778.8 917.5,772.6 925.5,766.4 933.5,761.9 941.5,760 949.5,761.3 957.5,765.1 965.5,771.3 973.5,779.2 981.5,788 989.5,796.3 997.5,804.7 1005.5,813 1013.5,821.4 1021.5,828.6 1029.5,833.9 1037.5,839 1045.5,844.4 1053.5,850 1061.5,855.5"/>
<polyline shape-rendering="crispEdges" fill="none" stroke="#000" stroke-width="1" points="93.5,866 101.5,880.7 109.5,884.5 117.5,874.3 125.5,851 133.5,845.2 141.5,848.5 149.5,840 157.5,847.4 165.5,849.8 173.5,871.6 181.5,891 189.5,901.2 197.5,912 205.5,913.8 213.5,924 221.5,924 229.5,912 237.5,899 245.5,881.5 253.5,866 261.5,864 269.5,851.4 277.5,840.7 285.5,836.6 293.5,830.2 301.5,833.7 309.5,850.6 317.5,854 325.5,858 333.5,846.6 341.5,834 349.5,815.7 357.5,798.2 365.5,769.4 373.5,772 381.5,779.3 389.5,772 397.5,771 405.5,792.8 413.5,810.8 421.5,825.9 429.5,835.8 437.5,854.7 445.5,859.5 453.5,854.7 461.5,851.4 469.5,852 477.5,845.2 485.5,861.4 493.5,872 501.5,870 509.5,859.5 517.5,858 525.5,843.9 533.5,831.3 541.5,823.2 549.5,817.8 557.5,823.2 565.5,839.9 573.5,853.3 581.5,859.2 589.5,859.2 597.5,868.6 605.5,862.2 613.5,854.7 621.5,848.7 629.5,838.5 637.5,828.6 645.5,831.8 653.5,834.5 661.5,836.6 669.5,838.8 677.5,842.5 685.5,846.6 693.5,837.2 701.5,838.5 709.5,839.9 717.5,847.9 725.5,847.1 733.5,843.9 741.5,830.4 749.5,825.1 757.5,814.8 765.5,810.8 773.5,814.3 781.5,818.3 789.5,822.4 797.5,823.7 805.5,825.1 813.5,823.7 821.5,824.3 829.5,822.4 837.5,816.2 845.5,807.6 853.5,796 861.5,784.7 869.5,781.2 877.5,776.1 885.5,780.2 893.5,779.3 901.5,765.9 909.5,749.2 917.5,750.3 925.5,741.2 933.5,744.4 941.5,751.9 949.5,765.9 957.5,778 965.5,792.8 973.5,808.9 981.5,819.7 989.5,835 997.5,841.2 1005.5,847.9 1013.5,852 1021.5,851.4 1029.5,856.8 1037.5,859.5 1045.5,868.6 1053.5,876.2 1061.5,878"/>
<g font-size="12" fill="#222a3a" text-anchor="end" shape-rendering="auto">
<text x="84.5" y="48.8">86.83</text>
<text x="84.5" y="103.8">84.91</text>
<text x="84.5" y="158.8">82.99</text>
<text x="84.5" y="213.8">81.06</text>
<text x="84.5" y="268.8">79.14</text>
<text x="84.5" y="323.8">77.22</text>
<text x="84.5" y="378.8">75.30</text>
<text x="84.5" y="433.8">73.37</text>
<text x="84.5" y="488.8">71.45</text>
<text x="84.5" y="543.8">69.53</text>
<text x="84.5" y="598.8">67.61</text>
<text x="84.5" y="653.8">65.68</text>
<text x="84.5" y="731.8">1.46</text>
<text x="84.5" y="755.8">1.11</text>
<text x="84.5" y="780.8">0.75</text>
<text x="84.5" y="804.8">0.40</text>
<text x="84.5" y="829.8">0.05</text>
<text x="84.5" y="854.8">-0.30</text>
<text x="84.5" y="878.8">-0.65</text>
<text x="84.5" y="903.8">-1.00</text>
</g>
<g stroke="#cfd8e3" stroke-width="1">
<line x1="165.5" y1="926" x2="165.5" y2="931"/>
<line x1="333.5" y1="926" x2="333.5" y2="931"/>
<line x1="517.5" y1="926" x2="517.5" y2="931"/>
<line x1="685.5" y1="926" x2="685.5" y2="931"/>
<line x1="853.5" y1="926" x2="853.5" y2="931"/>
<line x1="1030.5" y1="926" x2="1030.5" y2="931"/>
</g>
<g font-size="12" font-weight="bold" fill="#222a3a" shape-rendering="auto">
<text x="167" y="938.3" textLength="44" lengthAdjust="spacing">2024/09</text>
<text x="335" y="938.3" textLength="44" lengthAdjust="spacing">2024/10</text>
<text x="519" y="938.3" textLength="44" lengthAdjust="spacing">2024/11</text>
<text x="687" y="938.3" textLength="44" lengthAdjust="spacing">2024/12</text>
<text x="855" y="938.3" textLength="44" lengthAdjust="spacing">2025/01</text>
<text x="1032" y="938.3" textLength="44" lengthAdjust="spacing">2025/02</text>
</g>
<text x="930.5" y="256" font-size="12" font-weight="bold" fill="#d8433c" shape-rendering="auto">79.39</text>
<text x="218" y="675" font-size="12" font-weight="bold" fill="#5fa55a" shape-rendering="auto">65.27</text>
<g shape-rendering="auto">
<text x="90.5" y="37.5" textLength="59.5" lengthAdjust="spacing" fill="#000" font-size="12" >美原油连续</text>
<text x="150" y="37.5" textLength="48" lengthAdjust="spacing" fill="#ff7a10" font-size="12" >【日线】</text>
<text x="230.6" y="37.5" textLength="77.4" lengthAdjust="spacing" fill="#111" font-size="12.2" >MA1(55,0,0,0)</text>
<text x="312.8" y="37.5" textLength="68.2" lengthAdjust="spacing" fill="#111" font-size="12.2" >MA55:71.96</text>
<text x="390" y="37.5" textLength="59.5" lengthAdjust="spacing" fill="#10109c" font-size="12.2" >MA0:70.78</text>
<text x="458.8" y="37.5" textLength="59.6" lengthAdjust="spacing" fill="#ff1aff" font-size="12.2" >MA0:70.78</text>
<text x="527.7" y="37.5" textLength="59.8" lengthAdjust="spacing" fill="#ff8a1a" font-size="12.2" >MA0:70.78</text>
<text x="90.6" y="721" textLength="77.9" lengthAdjust="spacing" fill="#111" font-size="12.2" >MACD(13,8,9)</text>
<text x="173" y="721" textLength="56.4" lengthAdjust="spacing" fill="#111" font-size="12.2" >DIFF:-0.68</text>
<text x="238" y="721" textLength="55.7" lengthAdjust="spacing" fill="#10109c" font-size="12.2" >DEA:-0.36</text>
<text x="302.3" y="721" textLength="67.7" lengthAdjust="spacing" fill="#ff1aff" font-size="12.2" >MACD:-0.64</text>
</g>
<g shape-rendering="auto" fill="none" stroke="#ff8a10" stroke-width="1"><circle cx="202.7" cy="35.5" r="4.2"/><line x1="198.5" y1="35.5" x2="207" y2="35.5"/><line x1="202.7" y1="31.3" x2="202.7" y2="39.7" stroke-opacity="0.55"/></g>
<g shape-rendering="crispEdges"><rect x="215.5" y="25.5" width="11" height="12" fill="#fff" stroke="#00008b" stroke-width="1"/></g>
<polyline shape-rendering="auto" fill="none" stroke="#ff0000" stroke-width="1.1" points="216.2,32.6 219.6,28.6 222.5,31.6 224.8,29.4 226,29.4"/>
<polyline shape-rendering="auto" fill="none" stroke="#0000ff" stroke-width="1.1" points="216.2,35.7 219.6,31.7 222.5,34.7 224.8,32.5 226,32.5"/>
<g shape-rendering="auto"><circle cx="26.9" cy="713.9" r="3.6" fill="#fff" stroke="#000" stroke-width="1"/><circle cx="26.9" cy="713.9" r="1.9" fill="#ff0000"/>
<g stroke="#ff0000" stroke-width="1.1"><line x1="26.9" y1="707" x2="26.9" y2="708.8"/><line x1="26.9" y1="719" x2="26.9" y2="720.8"/><line x1="20" y1="713.9" x2="21.8" y2="713.9"/><line x1="32" y1="713.9" x2="33.8" y2="713.9"/><line x1="21.6" y1="708.6" x2="22.8" y2="709.8"/><line x1="31" y1="718" x2="32.2" y2="719.2"/><line x1="21.6" y1="719.2" x2="22.8" y2="718"/><line x1="31" y1="709.8" x2="32.2" y2="708.6"/></g></g>
<g font-size="30.3" letter-spacing="2.7" shape-rendering="auto"><text x="1165.3" y="947" fill="#c0b2a6">FX678</text><text x="1164.3" y="946" fill="#dce8f7">FX678</text></g>
<rect x="0" y="960" width="1294" height="1.5" fill="#cfd5de"/>
<rect x="741" y="962" width="180" height="8" fill="#b6b6bc"/>
<polygon shape-rendering="auto" points="819.5,969 831,962.8 842.5,969" fill="#666"/>
<rect x="0" y="970" width="1294" height="1" fill="#d4d8de"/>
</svg>
<div id="tb">
<div class="b o" style="left:0px;width:69px"></div>
<div class="b " style="left:69px;width:71px"></div>
<div class="b " style="left:140px;width:67px"></div>
<div class="b " style="left:207px;width:47px"></div>
<div class="b " style="left:254px;width:47px"></div>
<div class="b " style="left:301px;width:47px"></div>
<div class="b " style="left:348px;width:47px"></div>
<div class="b " style="left:395px;width:28px"></div>
<div class="b " style="left:423px;width:28px"></div>
<div class="b " style="left:451px;width:28px"></div>
<div class="b " style="left:479px;width:28px"></div>
<div class="b " style="left:507px;width:28px"></div>
<div class="b " style="left:535px;width:28px"></div>
<div class="b " style="left:563px;width:28px"></div>
<div class="b " style="left:591px;width:28px"></div>
<div class="b " style="left:619px;width:28px"></div>
<div class="b " style="left:647px;width:28px"></div>
<div class="b " style="left:675px;width:71px"></div>
<div class="b " style="left:746px;width:28px"></div>
<div class="b " style="left:774px;width:47px"></div>
<div class="b " style="left:821px;width:47px"></div>
<div class="b " style="left:868px;width:47px"></div>
<div class="b d" style="left:915px;width:27px"></div>
<div class="b d" style="left:943px;width:27px"></div>
<div class="b d" style="left:971px;width:76px"></div>
<div class="b d" style="left:1048px;width:82px"></div>
<div class="b d" style="left:1131px;width:81px"></div>
<div class="b d" style="left:1213px;width:83px"></div>
<span class="t" style="left:28.5px;top:2.5px;font-size:12.3px;line-height:16px;color:#fff;">返回</span>
<span class="t" style="left:99.8px;top:2.5px;font-size:12.3px;line-height:16px;color:#444d5b;">首页</span>
<span class="t" style="left:311px;top:1px;font-size:16.5px;line-height:16px;color:#444d5b;">tick</span>
<span class="t" style="left:361px;top:2.5px;font-size:12px;line-height:16px;color:#444d5b;"><span style="font-size:13px">5</span>日</span>
<span class="t" style="left:395px;top:2.5px;width:28px;text-align:center;font-size:13px;line-height:16px;color:#444d5b;">5</span>
<span class="t" style="left:423px;top:2.5px;width:28px;text-align:center;font-size:13px;line-height:16px;color:#444d5b;">15</span>
<span class="t" style="left:451px;top:2.5px;width:28px;text-align:center;font-size:13px;line-height:16px;color:#444d5b;">30</span>
<span class="t" style="left:479px;top:2.5px;width:28px;text-align:center;font-size:13px;line-height:16px;color:#444d5b;">60</span>
<span class="t" style="left:507px;top:2.5px;width:28px;text-align:center;font-size:13px;line-height:16px;color:#444d5b;">2H</span>
<span class="t" style="left:535px;top:2.5px;width:28px;text-align:center;font-size:13px;line-height:16px;color:#444d5b;">4H</span>
<span class="t" style="left:563px;top:2.5px;width:28px;text-align:center;font-size:12px;line-height:16px;color:#444d5b;">日</span>
<span class="t" style="left:591px;top:2.5px;width:28px;text-align:center;font-size:12px;line-height:16px;color:#444d5b;">周</span>
<span class="t" style="left:619px;top:2.5px;width:28px;text-align:center;font-size:12px;line-height:16px;color:#444d5b;">月</span>
<span class="t" style="left:647px;top:2.5px;width:28px;text-align:center;font-size:12px;line-height:16px;color:#444d5b;">年</span>
<span class="t" style="left:707px;top:2.5px;font-size:12.5px;line-height:16px;color:#444d5b;">更多</span>
<span class="t" style="left:977.5px;top:1.5px;font-size:15px;line-height:16px;color:#444d5b;font-weight:bold;">$</span>
<span class="t" style="left:989.5px;top:2.5px;font-size:12.3px;line-height:16px;color:#444d5b;letter-spacing:0.4px;">模拟交易</span>
<span class="t" style="left:1076.5px;top:2.5px;font-size:12px;line-height:16px;color:#444d5b;">汇通财经</span>
<span class="t" style="left:1146px;top:2.5px;font-size:12px;line-height:16px;color:#444d5b;letter-spacing:0.9px;">财经日历</span>
<span class="t" style="left:1228px;top:2.5px;font-size:12px;line-height:16px;color:#444d5b;letter-spacing:0.9px;">黄金专题</span>
<span class="t" style="left:751.5px;top:-0.5px;font-size:17px;line-height:16px;color:#444d5b;font-weight:bold;line-height:20px;">ƒ</span>
<span class="t" style="left:760px;top:4.5px;font-size:12px;line-height:16px;color:#444d5b;font-weight:bold;line-height:14px;">x</span>
</div>
<svg style="position:absolute;left:0;top:0" width="1294" height="24" viewBox="0 0 1294 24">
<path d="M19 4.8 L12.8 10 L19 15.2 V12 C22.4 11.8 24.8 13 26.4 16.6 C27.2 11.6 24.2 8.3 19 8 Z" fill="#fff"/>
<path d="M90 5 L83.4 11.2 H85.2 V17.2 H88.4 V13 H91.6 V17.2 H94.8 V11.2 H96.6 Z" fill="#3a4452"/>
<path d="M179.4 9.2 A6 6 0 1 0 178.6 13.6" fill="none" stroke="#3a4452" stroke-width="1.6"/>
<path d="M177.6 9.4 H183.4 L180.6 13.6 Z" fill="#3a4452"/>
<g fill="#3a4452"><path d="M221 14.6 L223.6 12.6 V17.5 H221 Z"/><path d="M226.2 11.4 L228.8 9.4 V17.5 H226.2 Z"/><path d="M231.4 12.4 L234 10.4 V17.5 H231.4 Z"/><path d="M236.6 8.4 L239.2 6 V17.5 H236.6 Z"/></g>
<polyline points="221,11.8 228.2,5.8 232,9.2 239,3.4" fill="none" stroke="#3a4452" stroke-width="1.5"/>
<g fill="#3a4452"><rect x="267" y="7.5" width="3.2" height="5.6" rx="1"/><rect x="268.1" y="6.5" width="1" height="7.6"/>
<rect x="272.7" y="5" width="3.2" height="7.5" rx="1"/><rect x="273.8" y="2.7" width="1" height="14.8"/>
<rect x="278" y="8.7" width="3.2" height="5" rx="1"/><rect x="279.1" y="6.9" width="1" height="9.4"/>
<rect x="283.6" y="7.7" width="3.2" height="5.8" rx="1"/><rect x="284.7" y="5" width="1" height="11.3"/></g>
<g fill="#3a4452"><rect x="689" y="4.3" width="14" height="2.3" rx="1.1"/><rect x="689" y="9" width="14" height="2.3" rx="1.1"/><rect x="689" y="14.3" width="14" height="2.3" rx="1.1"/></g>
<circle cx="796.9" cy="10.1" r="6" fill="none" stroke="#3a4452" stroke-width="1.1"/>
<line x1="801.3" y1="14.6" x2="804.5" y2="17.6" stroke="#3a4452" stroke-width="1.2"/>
<line x1="794.1" y1="9.9" x2="799.6999999999999" y2="9.9" stroke="#3a4452" stroke-width="1.2"/>
<circle cx="844.0" cy="10.1" r="6" fill="none" stroke="#3a4452" stroke-width="1.1"/>
<line x1="848.4" y1="14.6" x2="851.6" y2="17.6" stroke="#3a4452" stroke-width="1.2"/>
<line x1="841.2" y1="9.9" x2="846.8" y2="9.9" stroke="#3a4452" stroke-width="1.2"/>
<line x1="844.0" y1="7.1" x2="844.0" y2="12.7" stroke="#3a4452" stroke-width="1.2"/>
<path d="M886.2 14.6 L887 11.4 L894.4 4 L897 6.6 L889.6 14 Z" fill="#3a4452"/><path d="M895.2 3.4 L896 2.6 L898.4 5 L897.6 5.8 Z" fill="#3a4452"/>
<rect x="884" y="16.8" width="15" height="1.1" fill="#3a4452"/>
<rect x="919" y="3" width="19" height="1.2" fill="#3a4452"/>
<rect x="919" y="17.2" width="19" height="2" fill="#8a909b"/>
<path d="M919.5 18.4 L928.5 7 L937.5 18.4" fill="none" stroke="#3a4452" stroke-width="1.2"/>
<rect x="947" y="2.1" width="19" height="2" fill="#8a909b"/>
<path d="M947.3 3 L956.4 14.6 L965.7 3" fill="none" stroke="#3a4452" stroke-width="1.2"/>
<rect x="947" y="17.8" width="19" height="1.3" fill="#3a4452"/>
<circle cx="1067.2" cy="10" r="5.7" fill="none" stroke="#3a4452" stroke-width="1.5"/>
<path d="M1063 8.6 C1064.4 5.6 1069 5.6 1070 8.6 C1070.8 11.4 1067.8 12.8 1066.2 11.4 C1065.2 10.2 1066.2 8.8 1067.4 9.4" fill="none" stroke="#3a4452" stroke-width="1.3"/>
<path d="M1061.6 11 C1063 14 1066 15 1069 14" fill="none" stroke="#3a4452" stroke-width="1.2"/>
</svg>
<div id="side">
<div class="sv" style="top:7px">分<br>时<br>图</div>
<div style="position:absolute;left:0;top:51px;width:18px;height:1px;background:#f6f6fa"></div>
<div style="position:absolute;left:0;top:52px;width:17px;height:46px;background:#ff6a00"></div>
<div class="sv" style="top:56px;color:#fff"><span style="font-family:'Liberation Mono',monospace;font-size:11px">K</span><br>线<br>图</div>
<div class="sv" style="top:105px">闪<br>电<br>图</div>
<div style="position:absolute;left:0;top:150px;width:18px;height:1px;background:#d3d4de"></div>
<div style="position:absolute;left:0;top:151px;width:18px;height:1px;background:#f6f6fa"></div>
<div class="sv" style="top:157.5px">合<br>约<br>资<br>料</div>
</div>
<div class="t" style="left:18px;top:926px;width:70px;height:19px;box-sizing:border-box;border-left:1px solid #d5dbe4;border-right:1px solid #d5dbe4;"></div>
<span class="t" style="left:32.5px;top:930px;font-size:12.3px;line-height:14px;font-weight:bold;color:#ff7a10">日线</span>
<svg style="position:absolute;left:61px;top:931px" width="12" height="10" viewBox="0 0 12 10"><path d="M1 9 L5.8 1 L10.6 9 Z" fill="#ff7a10"/></svg>
<div class="tab" style="left:18px;width:39px;background:#ff6a00;color:#fff;border-color:#ff6a00;"><span class="ti">指标</span></div>
<div class="tab" style="left:58px;width:40px;"><span class="ti">模板</span></div>
<div class="tab" style="left:98px;width:58px;color:#ff7a10;"><span class="ti"><span class="mo">VIP</span>指标</span></div>
<div class="tab" style="left:156px;width:28px;"><span class="ti"><span class="mo">MA</span></span></div>
<div class="tab" style="left:184px;width:40px;"><span class="ti"><span class="mo">MACD</span></span></div>
<div class="tab" style="left:224px;width:40px;"><span class="ti"><span class="mo">BOLL</span></span></div>
<div class="tab" style="left:264px;width:34px;"><span class="ti"><span class="mo">VOL</span></span></div>
<div class="tab" style="left:298px;width:40px;"><span class="ti"><span class="mo">BIAS</span></span></div>
<div class="tab" style="left:338px;width:34px;"><span class="ti"><span class="mo">CCI</span></span></div>
<div class="tab" style="left:372px;width:34px;"><span class="ti"><span class="mo">KDJ</span></span></div>
<div class="tab" style="left:406px;width:40px;"><span class="ti"><span class="mo">LW&amp;</span></span></div>
<div class="tab" style="left:446px;width:34px;"><span class="ti"><span class="mo">RSI</span></span></div>
<div class="tab" style="left:480px;width:28px;"><span class="ti"><span class="mo">CR</span></span></div>
<div class="tab" style="left:508px;width:34px;"><span class="ti"><span class="mo">PSY</span></span></div>
<div class="tab" style="left:542px;width:40px;"><span class="ti">设置</span></div>
</body></html>
